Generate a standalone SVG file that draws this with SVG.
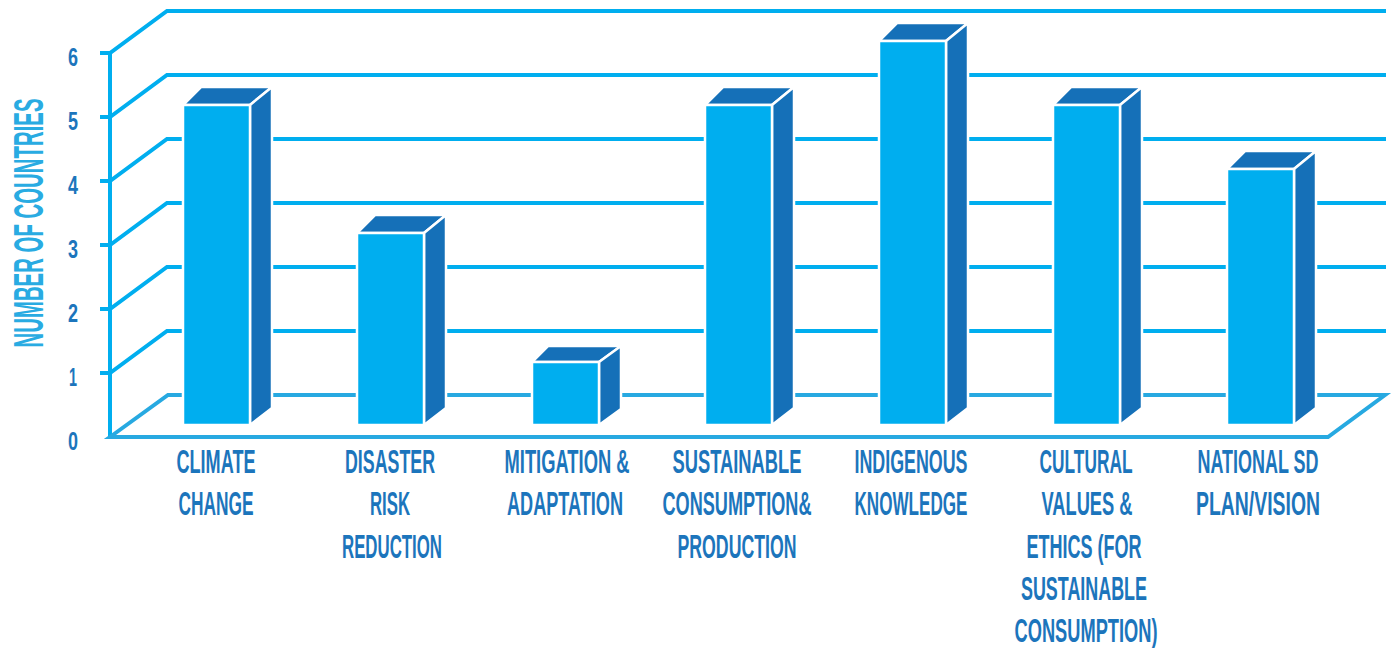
<svg xmlns="http://www.w3.org/2000/svg" width="1394" height="648" viewBox="0 0 1394 648">
<style>
.grid{fill:none;stroke:#00aeef;stroke-width:4;stroke-linejoin:miter}
.floor{fill:none;stroke:#27a9e1;stroke-width:4;stroke-linejoin:miter}
.front{fill:#00aeef;stroke:#ffffff;stroke-width:2.5;stroke-linejoin:round}
.dark{fill:#1570b8;stroke:#ffffff;stroke-width:2.5;stroke-linejoin:round}
.num{font-family:"Liberation Sans",Arial,sans-serif;font-weight:bold;font-size:25px;fill:#1c75bc;text-anchor:middle}
.lbl{font-family:"Liberation Sans",Arial,sans-serif;font-weight:bold;font-size:33px;fill:#1c75bc;text-anchor:middle}
.ttl{font-family:"Liberation Sans",Arial,sans-serif;font-weight:bold;font-size:42px;fill:#29abe2;text-anchor:middle}
</style>
<rect width="1394" height="648" fill="#ffffff"/>
<g id="grid">
<polyline class="grid" points="100,53 110,53 167,11 1386,11"/>
<polyline class="grid" points="100,117 110,117 167,75 1386,75"/>
<polyline class="grid" points="100,181 110,181 167,139 1386,139"/>
<polyline class="grid" points="100,245 110,245 167,203 1386,203"/>
<polyline class="grid" points="100,309 110,309 167,267 1386,267"/>
<polyline class="grid" points="100,373 110,373 167,331 1386,331"/>
<line class="grid" x1="110" y1="51" x2="110" y2="439"/>
<polygon class="floor" points="110,437 168,395 1385,395 1328,437"/>
</g>
<g id="axis-labels">
<text class="num" x="73" y="66" textLength="10" lengthAdjust="spacingAndGlyphs">6</text>
<text class="num" x="73" y="130" textLength="10" lengthAdjust="spacingAndGlyphs">5</text>
<text class="num" x="73" y="194" textLength="10" lengthAdjust="spacingAndGlyphs">4</text>
<text class="num" x="73" y="258" textLength="10" lengthAdjust="spacingAndGlyphs">3</text>
<text class="num" x="73" y="322" textLength="10" lengthAdjust="spacingAndGlyphs">2</text>
<text class="num" x="73" y="386" textLength="8" lengthAdjust="spacingAndGlyphs">1</text>
<text class="num" x="73" y="450" textLength="10" lengthAdjust="spacingAndGlyphs">0</text>
<text class="ttl" transform="translate(43,223) rotate(-90)" x="0" y="0" textLength="249" lengthAdjust="spacingAndGlyphs">NUMBER OF COUNTRIES</text>
</g>
<g id="bar-climate-change">
<polygon class="dark" points="183,105 201,87 272,87 250,105"/>
<polygon class="dark" points="250,105 272,87 272,408 250,425"/>
<rect class="front" x="183" y="105" width="67" height="320"/>
<text class="lbl" x="216" y="473" textLength="79" lengthAdjust="spacingAndGlyphs">CLIMATE</text>
<text class="lbl" x="216" y="515" textLength="75" lengthAdjust="spacingAndGlyphs">CHANGE</text>
</g>
<g id="bar-disaster-risk-reduction">
<polygon class="dark" points="357,233 375,215 446,215 424,233"/>
<polygon class="dark" points="424,233 446,215 446,408 424,425"/>
<rect class="front" x="357" y="233" width="67" height="192"/>
<text class="lbl" x="390" y="473" textLength="90" lengthAdjust="spacingAndGlyphs">DISASTER</text>
<text class="lbl" x="390" y="515" textLength="40" lengthAdjust="spacingAndGlyphs">RISK</text>
<text class="lbl" x="392" y="558" textLength="100" lengthAdjust="spacingAndGlyphs">REDUCTION</text>
</g>
<g id="bar-mitigation-adaptation">
<polygon class="dark" points="532,362 548,346 621,346 599,362"/>
<polygon class="dark" points="599,362 621,346 621,409 599,425"/>
<rect class="front" x="532" y="362" width="67" height="63"/>
<text class="lbl" x="567" y="473" textLength="125" lengthAdjust="spacingAndGlyphs">MITIGATION &amp;</text>
<text class="lbl" x="565" y="515" textLength="116" lengthAdjust="spacingAndGlyphs">ADAPTATION</text>
</g>
<g id="bar-sustainable-consumption">
<polygon class="dark" points="705,105 723,87 794,87 772,105"/>
<polygon class="dark" points="772,105 794,87 794,408 772,425"/>
<rect class="front" x="705" y="105" width="67" height="320"/>
<text class="lbl" x="737" y="473" textLength="129" lengthAdjust="spacingAndGlyphs">SUSTAINABLE</text>
<text class="lbl" x="737" y="515" textLength="149" lengthAdjust="spacingAndGlyphs">CONSUMPTION&amp;</text>
<text class="lbl" x="737" y="558" textLength="119" lengthAdjust="spacingAndGlyphs">PRODUCTION</text>
</g>
<g id="bar-indigenous-knowledge">
<polygon class="dark" points="879,41 897,23 968,23 946,41"/>
<polygon class="dark" points="946,41 968,23 968,408 946,425"/>
<rect class="front" x="879" y="41" width="67" height="384"/>
<text class="lbl" x="911" y="473" textLength="113" lengthAdjust="spacingAndGlyphs">INDIGENOUS</text>
<text class="lbl" x="911" y="515" textLength="113" lengthAdjust="spacingAndGlyphs">KNOWLEDGE</text>
</g>
<g id="bar-cultural-values">
<polygon class="dark" points="1053,105 1071,87 1142,87 1120,105"/>
<polygon class="dark" points="1120,105 1142,87 1142,408 1120,425"/>
<rect class="front" x="1053" y="105" width="67" height="320"/>
<text class="lbl" x="1086" y="473" textLength="93" lengthAdjust="spacingAndGlyphs">CULTURAL</text>
<text class="lbl" x="1087" y="515" textLength="91" lengthAdjust="spacingAndGlyphs">VALUES &amp;</text>
<text class="lbl" x="1084" y="558" textLength="115" lengthAdjust="spacingAndGlyphs">ETHICS (FOR</text>
<text class="lbl" x="1084" y="600" textLength="126" lengthAdjust="spacingAndGlyphs">SUSTAINABLE</text>
<text class="lbl" x="1086" y="642" textLength="143" lengthAdjust="spacingAndGlyphs">CONSUMPTION)</text>
</g>
<g id="bar-national-sd-plan">
<polygon class="dark" points="1227,169 1245,151 1316,151 1294,169"/>
<polygon class="dark" points="1294,169 1316,151 1316,408 1294,425"/>
<rect class="front" x="1227" y="169" width="67" height="256"/>
<text class="lbl" x="1258" y="473" textLength="121" lengthAdjust="spacingAndGlyphs">NATIONAL SD</text>
<text class="lbl" x="1258" y="515" textLength="124" lengthAdjust="spacingAndGlyphs">PLAN/VISION</text>
</g>
</svg>
